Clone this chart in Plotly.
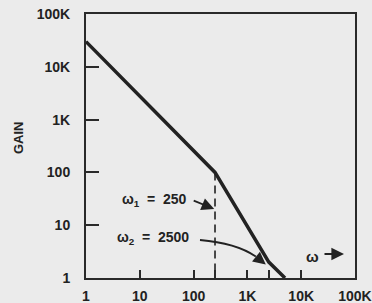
import math
import plotly.graph_objects as go

# ---- data ----
omega = [1, 250, 2500, 5000]
gain = [30000, 100, 2, 1]
omega1 = 250
omega2 = 2500
x_tickvals = [1, 10, 100, 250, 1000, 2500, 10000, 100000]
x_ticktext = ["1", "10", "100", "", "1K", "", "10K", "100K"]
y_tickvals = [1, 10, 100, 1000, 10000, 100000]
y_ticktext = ["1", "10", "100", "1K", "10K", "100K"]

INK = "#222222"
BG = "#ebebeb"
FONT = dict(family="Liberation Sans, Arial, sans-serif", size=14, color=INK, weight="bold")

W, H = 372, 303
ML, MR, MT, MB = 86, 17, 14, 25
PW, PH = W - ML - MR, H - MT - MB


def px(x, y):
    """pixel -> paper coords (decorations only)"""
    return (x - ML) / PW, (H - MB - y) / PH


fig = go.Figure()
fig.add_trace(go.Scatter(x=omega, y=gain, mode="lines",
                         line=dict(color=INK, width=3.5), hoverinfo="skip"))
fig.add_trace(go.Scatter(x=[omega1, omega1], y=[gain[1], 1], mode="lines",
                         line=dict(color=INK, width=1.6, dash="8px,5px"), hoverinfo="skip"))

ann = []
# labels
x, y = px(189, 200)
ann.append(dict(xref="paper", yref="paper", x=x, y=y, xanchor="right", yanchor="middle",
                text="ω<sub>1</sub>  =  250", showarrow=False, font=FONT))
x, y = px(191, 238)
ann.append(dict(xref="paper", yref="paper", x=x, y=y, xanchor="right", yanchor="middle",
                text="ω<sub>2</sub>  =  2500", showarrow=False, font=FONT))
# arrow to omega1 dashed line
ann.append(dict(xref="paper", yref="paper", x=math.log10(omega1) / 5 - 0.003, y=px(0, 209)[1],
                ax=-22, ay=-9, text="", showarrow=True, arrowhead=2, arrowsize=1.4,
                arrowwidth=1.8, arrowcolor=INK))
# arrowhead for omega2 curve
hx, hy = math.log10(2200) / 5, math.log10(1.8) / 5
ann.append(dict(xref="paper", yref="paper", x=hx, y=hy, ax=-10, ay=-8, text="",
                showarrow=True, arrowhead=2, arrowsize=1.4, arrowwidth=1.8, arrowcolor=INK))
# omega axis label
x, y = px(312, 256)
ann.append(dict(xref="paper", yref="paper", x=x, y=y, xanchor="center", yanchor="middle",
                text="ω", showarrow=False, font=dict(FONT, size=15)))
x, y = px(344, 254)
ann.append(dict(xref="paper", yref="paper", x=x, y=y, ax=-21, ay=0, text="",
                showarrow=True, arrowhead=2, arrowsize=1.4, arrowwidth=1.8, arrowcolor=INK))
# y title
x, y = px(18, 138)
ann.append(dict(xref="paper", yref="paper", x=x, y=y, xanchor="center", yanchor="middle",
                text="GAIN", textangle=-90, showarrow=False, font=dict(FONT, size=13)))

# curve body for omega2 arrow
sx, sy = px(200, 240)
cx, cy = px(236, 243)
hpx = ML + hx * PW
hpy = H - MB - hy * PH
ex, ey = px(hpx - 10, hpy - 8)
shapes = [dict(type="path", xref="paper", yref="paper",
               path=f"M {sx},{sy} Q {cx},{cy} {ex},{ey}",
               line=dict(color=INK, width=1.8))]

axis_common = dict(type="log", range=[0, 5], showline=True, mirror=True, linecolor="#2a2a2a",
                   linewidth=2, ticks="inside", tickwidth=2, tickcolor="#2a2a2a",
                   showgrid=False, zeroline=False, tickfont=FONT, automargin=False)

fig.update_layout(
    width=W, height=H,
    margin=dict(l=ML, r=MR, t=MT, b=MB, pad=0, autoexpand=False),
    paper_bgcolor=BG, plot_bgcolor=BG,
    showlegend=False,
    annotations=ann, shapes=shapes,
    xaxis=dict(axis_common, tickmode="array", tickvals=x_tickvals, ticktext=x_ticktext,
               ticklen=8, ticklabelstandoff=4),
    yaxis=dict(axis_common, tickmode="array", tickvals=y_tickvals, ticktext=y_ticktext,
               ticklen=13, ticklabelstandoff=11),
)

fig.write_html("out.html", config={"displayModeBar": False},
               post_script="document.body.style.margin='0px';document.body.style.background='%s';" % BG)
